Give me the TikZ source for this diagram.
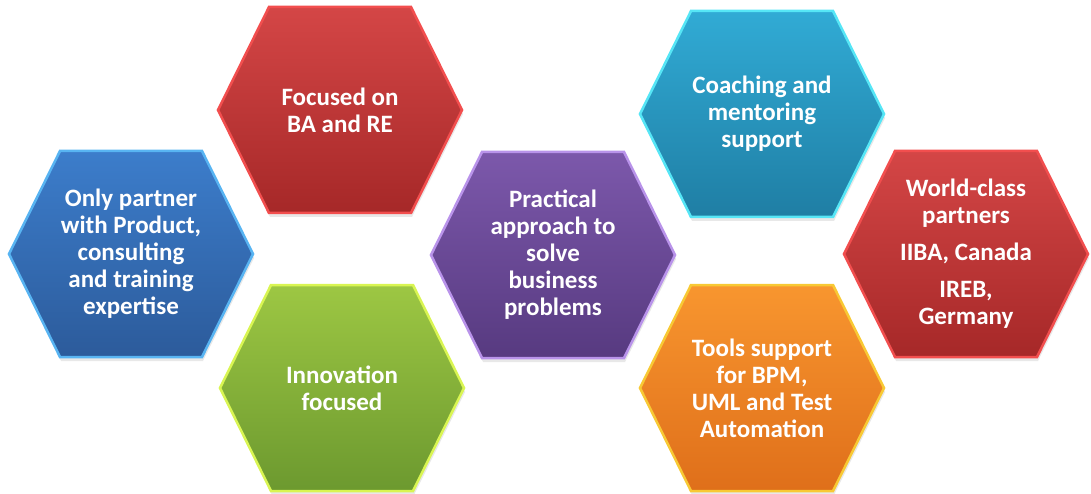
\documentclass[tikz,border=0pt]{standalone}
\usepackage{fontspec}
\setmainfont{Carlito}
\usetikzlibrary{calc,shadows}

\definecolor{blueTop}{HTML}{3C7DCB}
\definecolor{blueBot}{HTML}{2C5B9B}
\definecolor{blueRim}{HTML}{58B4F2}
\definecolor{redTop}{HTML}{D44646}
\definecolor{redBot}{HTML}{A62828}
\definecolor{redRim}{HTML}{F24E4E}
\definecolor{greenTop}{HTML}{9DC743}
\definecolor{greenBot}{HTML}{6C992F}
\definecolor{greenRim}{HTML}{D9F552}
\definecolor{purpleTop}{HTML}{7C58AB}
\definecolor{purpleBot}{HTML}{573A80}
\definecolor{purpleRim}{HTML}{B993EA}
\definecolor{cyanTop}{HTML}{31ABD5}
\definecolor{cyanBot}{HTML}{1F7EA4}
\definecolor{cyanRim}{HTML}{56E6F6}
\definecolor{orangeTop}{HTML}{F8962F}
\definecolor{orangeBot}{HTML}{DF6F1A}
\definecolor{orangeRim}{HTML}{F8C934}

% hexagon cell: name, centre, top colour, bottom colour, rim colour, text
\newcommand{\hexcell}[6]{%
    \draw [hexagon, draw=#5, top color=#3, bottom color=#4]
        ($(#2)+(-122,0)$) -- ++(51,-103) -- ++(142,0) -- ++(51,103)
        -- ++(-51,103) -- ++(-142,0) -- cycle;
    \node [hexlabel] (#1) at (#2) {#6};
}

\begin{document}
\begin{tikzpicture}[x=1pt, y=-1pt,
    hexagon/.style={line width=2.5pt, line join=miter,
        drop shadow={opacity=0.18, shadow xshift=1pt, shadow yshift=-4pt}},
    hexlabel/.style={text=white, align=center,
        font=\bfseries\fontsize{25}{27}\selectfont}]
    \useasboundingbox (0,0) rectangle (1091,494);
    \hexcell{partner}{131,254}{blueTop}{blueBot}{blueRim}
        {Only partner\\with Product,\\consulting\\and training\\expertise}
    \hexcell{focused}{340,110}{redTop}{redBot}{redRim}
        {Focused on\\BA and RE}
    \hexcell{innovation}{342,388}{greenTop}{greenBot}{greenRim}
        {Innovation\\focused}
    \hexcell{practical}{553,255}{purpleTop}{purpleBot}{purpleRim}
        {Practical\\approach to\\solve\\business\\problems}
    \hexcell{coaching}{762,114}{cyanTop}{cyanBot}{cyanRim}
        {Coaching and\\mentoring\\support}
    \hexcell{tools}{762,388}{orangeTop}{orangeBot}{orangeRim}
        {Tools support\\for BPM,\\UML and Test\\Automation}
    \hexcell{worldclass}{966,254}{redTop}{redBot}{redRim}
        {World-class\\partners\\[10pt]IIBA, Canada\\[10pt]IREB,\\Germany}
\end{tikzpicture}
\end{document}
